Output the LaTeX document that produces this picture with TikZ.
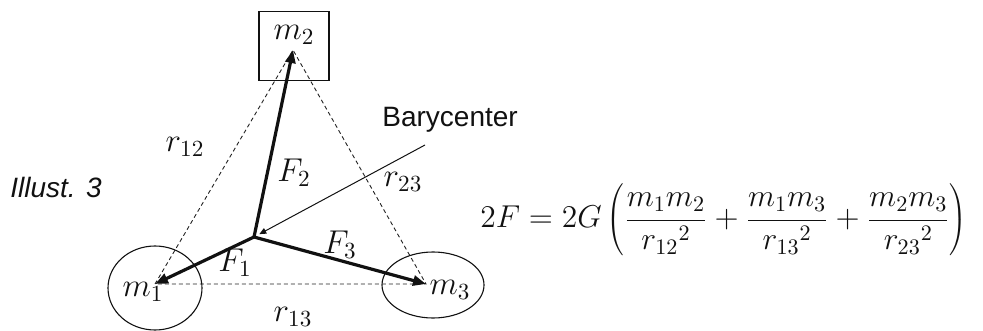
\RequirePackage{fix-cm}
\documentclass[tikz,border=0pt]{standalone}
\usepackage{fontspec}
\newfontfamily\labfont{Liberation Sans}
\usetikzlibrary{arrows.meta, shapes.geometric}

\begin{document}
\begin{tikzpicture}[
    x=0.5pt, y=-0.5pt,
    every node/.style={inner sep=0pt},
]

% ---------------------------------------------------------------- colours
\definecolor{ink}{HTML}{111111}      % strokes and labels
\definecolor{dashink}{HTML}{222222}  % the triangle of distances

% ================================================================
% Coordinates are in pixels of the 983 x 331 sheet, y pointing down.
%   m1 at (155,284), m2 at (293,50), m3 at (426,284)
%   barycenter at (254,237), forces drawn from there to each mass
%   formula to the right, from x = 478, on its axis y = 220
% ================================================================

\tikzset{
    massring/.style={draw=ink, line width=0.55pt, ellipse},
    massbox/.style={draw=ink, line width=0.55pt, rectangle,
        minimum width=35pt, minimum height=34.5pt},
    sidedash/.style={draw=dashink, line width=0.45pt,
        dash pattern=on 2pt off 1.5pt},
    forcearr/.style={draw=ink, line width=1.6pt,
        -{Triangle[length=6.5pt, width=5pt]}},
    pointarr/.style={draw=ink, line width=0.5pt,
        -{Triangle[length=3.5pt, width=3pt]}, shorten >=3pt},
    lab/.style={font=\fontsize{16.5}{19}\selectfont, text=ink},
    word/.style={font=\labfont\fontsize{14}{16}\selectfont, text=ink},
}

\useasboundingbox (0,0) rectangle (983,331);

% ================================================================ the three masses
\coordinate (v1) at (155,284);
\coordinate (v2) at (293,50);
\coordinate (v3) at (426,284);
\coordinate (bary) at (254,237);

\node[massring, minimum width=47pt, minimum height=42pt] (ring1) at (155,288) {};
\node[massbox] (box2) at (294,46) {};
\node[massring, minimum width=51pt, minimum height=33pt] (ring3) at (433,285) {};

\node[lab] (m1) at (143,292) {$m_1$};
\node[lab] (m2) at (294,35) {$m_2$};
\node[lab] (m3) at (450,290) {$m_3$};

% ================================================================ distances
\draw[sidedash] (v1) -- (v2) -- (v3) -- cycle;

\node[lab] (r12) at (185,147) {$r_{12}$};
\node[lab] (r23) at (403,182) {$r_{23}$};
\node[lab] (r13) at (293,317) {$r_{13}$};

% ================================================================ forces
\draw[forcearr] (bary) -- (v1);
\draw[forcearr] (bary) -- (v2);
\draw[forcearr] (bary) -- (v3);

\node[lab] (f1) at (235,263) {$F_1$};
\node[lab] (f2) at (294,173) {$F_2$};
\node[lab] (f3) at (340,245) {$F_3$};

% ================================================================ barycenter note
\node[word, anchor=base west] (barylab) at (382,127) {Barycenter};
\coordinate (baryfoot) at (425,145);
\draw[pointarr] (baryfoot) -- (bary);

% ================================================================ caption and formula
\node[word, font=\labfont\itshape\fontsize{14}{16}\selectfont,
      anchor=base west] (illu) at (10,198) {Illust. 3};

\node[font=\fontsize{15.8}{18}\selectfont, text=ink, anchor=west] (formula) at (480,220)
    {$\displaystyle 2F = 2G\left(\frac{m_1m_2}{{r_{12}}^2}
      + \frac{m_1m_3}{{r_{13}}^2} + \frac{m_2m_3}{{r_{23}}^2}\right)$};

\end{tikzpicture}
\end{document}
